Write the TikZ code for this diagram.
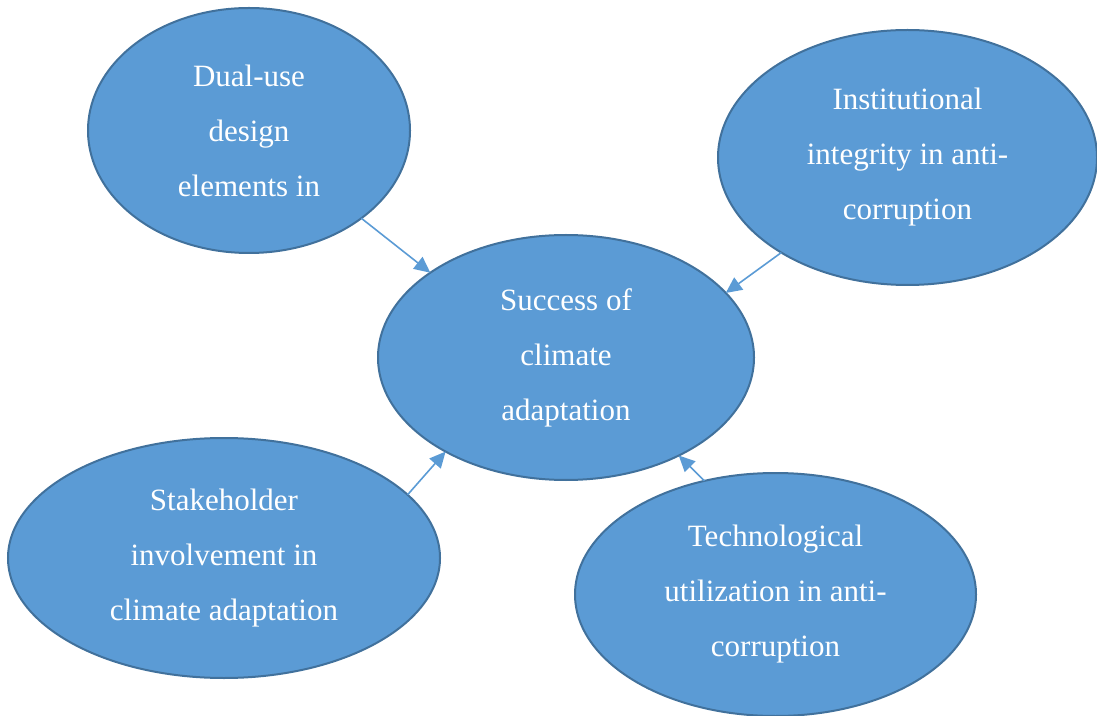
\documentclass[tikz,border=0pt]{standalone}
\usepackage{fontspec}
\setmainfont{Liberation Serif}
\usetikzlibrary{arrows.meta,shapes.geometric}
\definecolor{bubblefill}{HTML}{5B9BD5}
\definecolor{bubbleline}{HTML}{41719C}
\tikzset{
	bubble/.style={ellipse, draw=bubbleline, fill=bubblefill, line width=1pt, outer sep=0pt, inner sep=0pt, align=center, text=white, font=\fontsize{15.5}{27.5}\selectfont},
	link/.style={draw=bubblefill, line width=0.8pt, -{Triangle[length=8pt,width=7.5pt]}}
}
\begin{document}
\begin{tikzpicture}[x=0.5pt,y=-0.5pt]
		\useasboundingbox (0,0) rectangle (1097,716);
		\node[bubble, minimum width=161pt, minimum height=122.5pt] (dual) at (249,130.5) {Dual-use\\design\\elements in};
		\node[bubble, minimum width=189.5pt, minimum height=127.5pt] (inst) at (907.5,157.5) {Institutional\\integrity in anti-\\corruption};
		\node[bubble, minimum width=188pt, minimum height=122.5pt] (success) at (566,357.5) {Success of\\climate\\adaptation};
		\node[bubble, minimum width=216pt, minimum height=120pt] (stake) at (224,558) {Stakeholder\\involvement in\\climate adaptation};
		\node[bubble, minimum width=200.5pt, minimum height=121.5pt] (tech) at (775.5,594.5) {Technological\\utilization in anti-\\corruption};
		\draw[link] (dual.-38.5) -- (success.148.2);
		\draw[link] (inst.217.6) -- (success.22.2);
		\draw[link] (stake.19.8) -- (success.218.1);
		\draw[link] (tech.122) -- (success.319.1);
	\end{tikzpicture}
\end{document}
